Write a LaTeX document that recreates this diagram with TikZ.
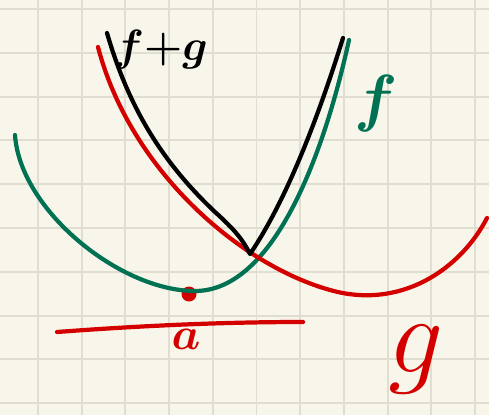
\documentclass[tikz,border=0pt]{standalone}
\usepackage{tikz}
\usetikzlibrary{positioning}
\definecolor{paper}{HTML}{F8F6EA}
\definecolor{gridline}{HTML}{E0DED0}
\definecolor{pengreen}{HTML}{007152}
\definecolor{penred}{HTML}{D40000}

\begin{document}
\begin{tikzpicture}[
  x=0.02cm, y=-0.02cm,
  pen/.style={line width=2.4pt, line cap=round, line join=round},
  gridrule/.style={draw=gridline, line width=1.1pt},
  hand/.style={inner sep=0pt, font=\huge\boldmath},
]
% ---------- paper and grid (pixel units, y downwards) ----------
\fill[paper] (0,0) rectangle (489,415);
\useasboundingbox (0,0) rectangle (489,415);
\foreach \i in {0,...,10} {
  \pgfmathsetmacro{\gx}{38+43.7*\i}
  \draw[gridrule] (\gx,0) -- (\gx,415);
}
\foreach \j in {0,...,9} {
  \pgfmathsetmacro{\gy}{9+43.8*\j}
  \draw[gridrule] (0,\gy) -- (489,\gy);
}
% ---------- x-axis with the point a ----------
\coordinate (axisL) at (57,332);
\coordinate (axisR) at (303,322);
\draw[pen, penred] (axisL) .. controls (150,325) and (230,322) .. (axisR);
\fill[penred] (189,294) circle (7.5);
\node[hand, text=penred, scale=1.25] (alab) at (186,339) {$a$};
% ---------- f (green) ----------
\draw[pen, pengreen] (15,135) .. controls (20,210) and (120,291) .. (195,291)
  .. controls (275,291) and (325,150) .. (349,40);
\node[hand, text=pengreen, scale=1.75] (flab) at (376,104) {$f$};
% ---------- g (red) ----------
\draw[pen, penred] (98,47) .. controls (130,170) and (240,265) .. (330,290)
  .. controls (400,310) and (460,270) .. (487,218);
\node[hand, text=penred, font=\huge\unboldmath, scale=3] (glab) at (416,360) {$g$};
% ---------- f+g (black) ----------
\draw[pen, black] (107,33) .. controls (128,105) and (160,160) .. (215,212)
  .. controls (235,230) and (243,240) .. (250,254)
  .. controls (290,195) and (322,105) .. (343,38);
\node[hand, anchor=west, scale=1.2] (fglab) at (114,50) {$f{+}g$};
\end{tikzpicture}
\end{document}
